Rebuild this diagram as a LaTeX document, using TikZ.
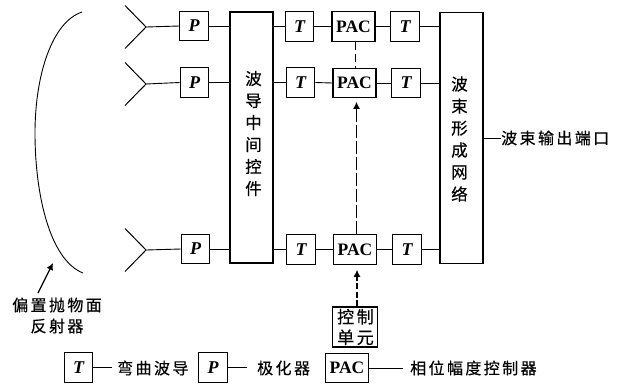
\documentclass[tikz,border=0pt]{standalone}
\usepackage{fontspec}
\setmainfont{Liberation Serif}
\newfontfamily\cjk[FakeBold=0.4]{Noto Sans CJK SC}
\newfontfamily\cjkw[LetterSpace=15,FakeBold=0.4]{Noto Sans CJK SC}
\usetikzlibrary{arrows.meta}
\tikzset{
  box/.style={draw=black,line width=1.1pt,inner sep=0pt,fill=white},
  pbox/.style={box,minimum width=28.5pt,minimum height=29.5pt,font=\fontsize{18}{18}\selectfont\bfseries\itshape},
  pacbox/.style={box,minimum width=43pt,minimum height=29.5pt,font=\fontsize{17.5}{18}\selectfont\bfseries},
  tall/.style={box,minimum width=43pt,minimum height=251pt},
  vtext/.style={inner sep=0pt,align=center,font=\cjk\fontsize{16.5}{22}\selectfont},
  label/.style={inner sep=0pt,font=\cjkw\fontsize{16}{21}\selectfont,align=center},
  wire/.style={line width=0.9pt},
  ctlink/.style={line width=1.2pt,draw=black,dash pattern=on 8pt off 4pt},
  ctrl/.style={-{Latex[length=7pt,width=7pt]},line width=1.2pt}
}
\begin{document}
\begin{tikzpicture}[x=1pt,y=-1pt]
\useasboundingbox (0,0) rectangle (621,384);
\fill[white] (0,0) rectangle (621,384);
% reflector
\draw[line width=0.9pt] (82,12) .. controls (52,22) and (35,75) .. (35,133)
  .. controls (35,195) and (50,260) .. (83,273);
\coordinate (refA) at (38,293);
\coordinate (refB) at (53,263);
\draw[ctrl] (refA) -- (refB);
\node[label] (reflab) at (57,315.5) {偏置抛物面\\反射器};
% horns
\foreach \n/\y in {1/27,2/84,3/250}{
  \coordinate (h\n) at (146,\y);
  \coordinate (ha\n) at (125,\y-21.5);
  \coordinate (hb\n) at (125,\y+21.5);
  \draw[line width=1pt] (ha\n) -- (h\n) -- (hb\n);
}
% tall boxes
\node[tall] (wg) at (251.5,137.5) {};
\node[tall] (bf) at (461.5,138) {};
\node[vtext] (wgt) at (253.5,133.5) {波\\导\\中\\间\\控\\件};
\node[vtext] (bft) at (459.5,139) {波\\束\\形\\成\\网\\络};
% rows
\node[pbox] (P1) at (194,26) {P};
\node[pbox] (P2) at (194.5,82.5) {P};
\node[pbox] (P3) at (195.5,249) {P};
\node[pbox] (T1) at (299.5,26.5) {T};
\node[pbox] (T2) at (300.5,82.5) {T};
\node[pbox] (T3) at (301,249.5) {T};
\node[pacbox] (A1) at (353.5,26.5) {PAC};
\node[pacbox] (A2) at (354.5,83) {PAC};
\node[pacbox] (A3) at (355,249.5) {PAC};
\node[pbox] (U1) at (405,26.5) {T};
\node[pbox] (U2) at (406,83) {T};
\node[pbox] (U3) at (407,249.5) {T};
\foreach \n in {1,2,3}{
  \draw[wire] (h\n) -- (P\n.west);
  \draw[wire] (P\n.east) -- (P\n.east -| wg.west);
  \draw[wire] (T\n.west -| wg.east) -- (T\n.west);
  \draw[wire] (T\n.east) -- (A\n.west);
  \draw[wire] (A\n.east) -- (U\n.west);
  \draw[wire] (U\n.east) -- (U\n.east -| bf.west);
}
% control
\node[box,minimum width=45pt,minimum height=40pt] (cu) at (355,327) {};
\node[inner sep=0pt,align=center,font=\cjkw\fontsize{17}{20.5}\selectfont] (cut) at (355.5,327) {控制\\单元};
\draw[ctlink] ([xshift=2pt]A1.south) -- ([xshift=1pt]A2.north);
\draw[ctrl,dash pattern=on 13pt off 3pt,shorten >=3.5pt] ([xshift=1.5pt]A3.north) -- ([xshift=2pt]A2.south);
\draw[ctrl,dash pattern=on 6pt off 2.5pt,shorten >=5pt] ([xshift=2pt]cu.north) -- ([xshift=2pt]A3.south);
% output
\node[label,anchor=west] (out) at (501,138) {波束输出端口};
\draw[wire] (bf.east |- out.west) -- (out.west);
% legend
\node[pbox] (LT) at (78.5,367.5) {T};
\node[label,anchor=west] (LTt) at (117,368) {弯曲波导};
\coordinate (LTe) at (112,367.5);
\draw[wire] (LT.east) -- (LTe);
\node[pbox] (LP) at (213,367.5) {P};
\node[label,anchor=west] (LPt) at (257,368) {极化器};
\coordinate (LPe) at (247,367.5);
\draw[wire] (LP.east) -- (LPe);
\node[pacbox] (LA) at (347,368) {PAC};
\node[label,anchor=west] (LAt) at (410,368) {相位幅度控制器};
\coordinate (LAe) at (403,368);
\draw[wire] (LA.east) -- (LAe);
\end{tikzpicture}
\end{document}
